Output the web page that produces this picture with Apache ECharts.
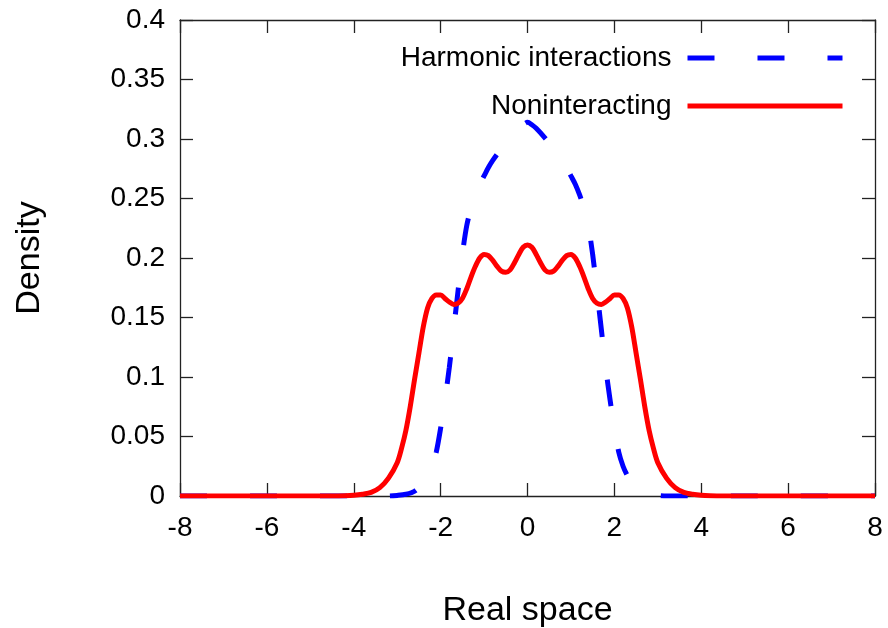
<!DOCTYPE html>
<html>
<head>
<meta charset="utf-8">
<script src="https://cdn.jsdelivr.net/npm/echarts@6/dist/echarts.min.js"></script>
<style>html,body{margin:0;padding:0;background:#fff;}#c{width:888px;height:628px;}</style>
</head>
<body>
<div id="c"></div>
<script>
// Harmonic interactions (blue dashed)
const harmonicX = [-8,-7,-6,-5,-4,-3.5,-3.2,-3.0,-2.8,-2.6,-2.4,-2.3,-2.2,-2.1,-2.0,-1.9,-1.8,-1.7,-1.6,-1.5,-1.4,-1.3,-1.2,-1.1,-1.0,-0.9,-0.8,-0.6,-0.4,-0.2,-0.1,0,
  0.1,0.2,0.4,0.6,0.8,0.9,1.0,1.1,1.2,1.3,1.4,1.5,1.6,1.7,1.8,1.9,2.0,2.1,2.2,2.3,2.4,2.6,2.8,3.0,3.2,3.5,4,5,6,7,8];
const harmonicY = [0,0,0,0,0,0,0,0.0005,0.0015,0.004,0.011,0.017,0.025,0.037,0.057,0.081,0.108,0.140,0.172,0.203,0.227,0.242,0.253,0.262,0.269,0.276,0.282,0.292,0.301,0.309,0.312,0.314,
  0.312,0.309,0.301,0.292,0.282,0.276,0.269,0.262,0.253,0.242,0.227,0.203,0.172,0.140,0.108,0.081,0.057,0.037,0.025,0.017,0.011,0.004,0.0015,0.0005,0,0,0,0,0,0,0];
// Noninteracting (red solid)
const nonintX = [-8,-7,-6,-5,-4.5,-4.2,-4.0,-3.8,-3.6,-3.4,-3.2,-3.0,-2.9,-2.8,-2.7,-2.6,-2.5,-2.4,-2.3,-2.2,-2.1,-2.0,-1.9,-1.8,-1.7,-1.6,-1.5,-1.4,-1.3,-1.2,-1.1,-1.0,-0.9,-0.8,-0.7,-0.6,-0.5,-0.4,-0.3,-0.2,-0.1,0,
  0.1,0.2,0.3,0.4,0.5,0.6,0.7,0.8,0.9,1.0,1.1,1.2,1.3,1.4,1.5,1.6,1.7,1.8,1.9,2.0,2.1,2.2,2.3,2.4,2.5,2.6,2.7,2.8,2.9,3.0,3.2,3.4,3.6,3.8,4.0,4.2,4.5,5,6,7,8];
const nonintY = [0,0,0,0,0,0.0002,0.0006,0.0015,0.003,0.007,0.015,0.028,0.040,0.055,0.075,0.098,0.120,0.142,0.158,0.166,0.169,0.169,0.166,0.163,0.161,0.162,0.166,0.174,0.184,0.193,0.200,0.203,0.202,0.198,0.193,0.189,0.188,0.190,0.196,0.203,0.209,0.211,
  0.209,0.203,0.196,0.190,0.188,0.189,0.193,0.198,0.202,0.203,0.200,0.193,0.184,0.174,0.166,0.162,0.161,0.163,0.166,0.169,0.169,0.166,0.158,0.142,0.120,0.098,0.075,0.055,0.040,0.028,0.015,0.007,0.003,0.0015,0.0006,0.0002,0,0,0,0,0];
const xTicks = {min: -8, max: 8, step: 2};
const yTicks = {min: 0, max: 0.4, step: 0.05};

const pair = (xs, ys) => xs.map((x, i) => [x, ys[i]]);
const FONT = '"Liberation Sans", Arial, Helvetica, sans-serif';
const chart = echarts.init(document.getElementById('c'));
const tickStyle = {show: true, inside: true, length: 13, lineStyle: {color: '#222', width: 1.3}};
const lineStyleAx = {show: true, onZero: false, lineStyle: {color: '#222', width: 1.3}};
chart.setOption({
  animation: false,
  backgroundColor: '#fff',
  textStyle: {fontFamily: FONT},
  grid: {left: 180, right: 13, top: 20, bottom: 132, outerBoundsMode: 'none', containLabel: false},
  legend: {
    orient: 'vertical', right: 38, top: 39, align: 'right', itemGap: 20,
    itemWidth: 155, itemHeight: 14,
    itemStyle: {opacity: 0, borderWidth: 0},
    lineStyle: {width: 5},
    textStyle: {fontFamily: FONT, fontSize: 28, color: '#000', padding: [0, 11, 0, 0]},
    data: ['Harmonic interactions', 'Noninteracting']
  },
  xAxis: [{
    type: 'value', min: xTicks.min, max: xTicks.max, interval: xTicks.step,
    name: 'Real space', nameLocation: 'middle', nameGap: 98,
    nameTextStyle: {fontFamily: FONT, fontSize: 34, color: '#000'},
    axisLine: lineStyleAx, axisTick: tickStyle, splitLine: {show: false},
    axisLabel: {fontFamily: FONT, fontSize: 28, color: '#000', margin: 18}
  }, {
    type: 'value', position: 'top', min: xTicks.min, max: xTicks.max, interval: xTicks.step,
    axisLine: lineStyleAx, axisTick: tickStyle, splitLine: {show: false}, axisLabel: {show: false}
  }],
  yAxis: [{
    type: 'value', min: yTicks.min, max: yTicks.max, interval: yTicks.step,
    name: 'Density', nameLocation: 'middle', nameGap: 133, nameRotate: 90,
    nameTextStyle: {fontFamily: FONT, fontSize: 34, color: '#000'},
    axisLine: lineStyleAx, axisTick: tickStyle, splitLine: {show: false},
    axisLabel: {fontFamily: FONT, fontSize: 28, color: '#000', margin: 15}
  }, {
    type: 'value', position: 'right', min: yTicks.min, max: yTicks.max, interval: yTicks.step,
    axisLine: lineStyleAx, axisTick: tickStyle, splitLine: {show: false}, axisLabel: {show: false}
  }],
  series: [{
    name: 'Harmonic interactions', type: 'line', data: pair(harmonicX, harmonicY),
    symbol: 'none', smooth: 0.3, color: '#0000ff',
    lineStyle: {color: '#0000ff', width: 5, type: [27, 43]}
  }, {
    name: 'Noninteracting', type: 'line', data: pair(nonintX, nonintY),
    symbol: 'none', smooth: 0.3, color: '#ff0000',
    lineStyle: {color: '#ff0000', width: 5}
  }]
});
</script>
</body>
</html>
